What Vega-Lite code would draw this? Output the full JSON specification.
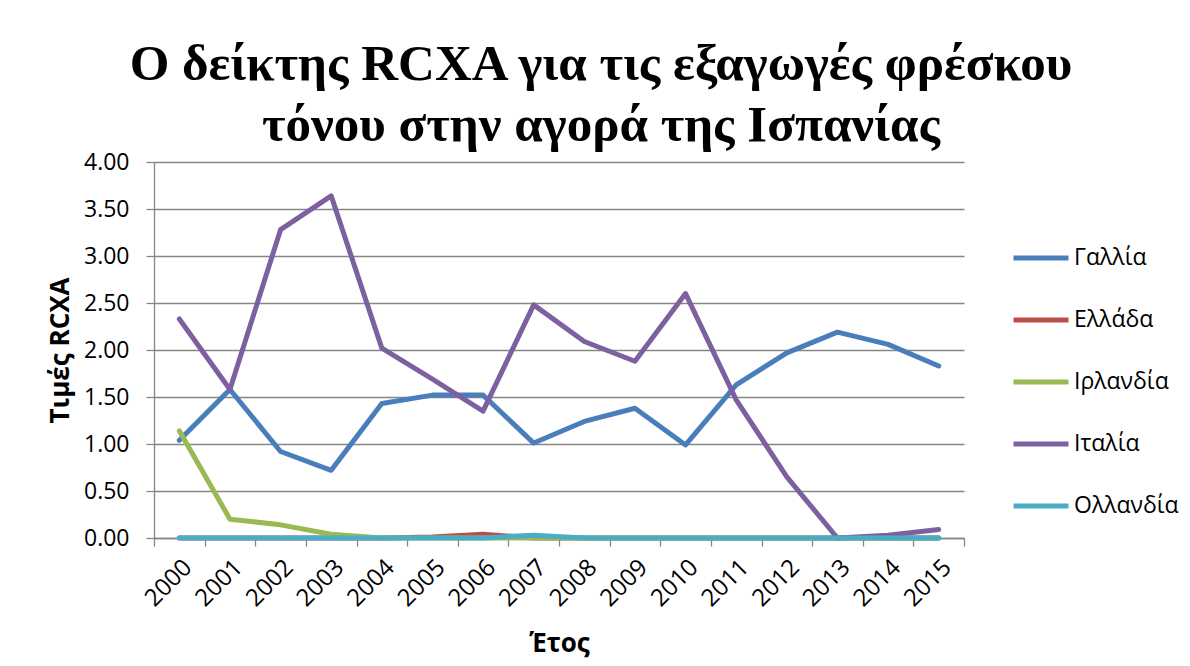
{
  "$schema": "https://vega.github.io/schema/vega-lite/v6.json",
  "autosize": "none",
  "padding": {"left": 154, "top": 162, "right": 226, "bottom": 128},
  "width": 810,
  "height": 376,
  "background": "white",
  "title": {
    "text": ["Ο δείκτης RCXA για τις εξαγωγές φρέσκου", "τόνου στην αγορά της Ισπανίας"],
    "anchor": "middle",
    "frame": "group",
    "dx": 42,
    "font": "Liberation Serif",
    "fontSize": 51,
    "fontWeight": "bold",
    "lineHeight": 61,
    "color": "black",
    "offset": -1
  },
  "data": {
    "values": [
      {"year": "2000", "country": "Γαλλία", "value": 1.04},
      {"year": "2001", "country": "Γαλλία", "value": 1.58},
      {"year": "2002", "country": "Γαλλία", "value": 0.92},
      {"year": "2003", "country": "Γαλλία", "value": 0.72},
      {"year": "2004", "country": "Γαλλία", "value": 1.43},
      {"year": "2005", "country": "Γαλλία", "value": 1.52},
      {"year": "2006", "country": "Γαλλία", "value": 1.52},
      {"year": "2007", "country": "Γαλλία", "value": 1.01},
      {"year": "2008", "country": "Γαλλία", "value": 1.24},
      {"year": "2009", "country": "Γαλλία", "value": 1.38},
      {"year": "2010", "country": "Γαλλία", "value": 0.99},
      {"year": "2011", "country": "Γαλλία", "value": 1.63},
      {"year": "2012", "country": "Γαλλία", "value": 1.97},
      {"year": "2013", "country": "Γαλλία", "value": 2.19},
      {"year": "2014", "country": "Γαλλία", "value": 2.06},
      {"year": "2015", "country": "Γαλλία", "value": 1.83},
      {"year": "2000", "country": "Ελλάδα", "value": 0},
      {"year": "2001", "country": "Ελλάδα", "value": 0},
      {"year": "2002", "country": "Ελλάδα", "value": 0},
      {"year": "2003", "country": "Ελλάδα", "value": 0},
      {"year": "2004", "country": "Ελλάδα", "value": 0},
      {"year": "2005", "country": "Ελλάδα", "value": 0.01},
      {"year": "2006", "country": "Ελλάδα", "value": 0.04},
      {"year": "2007", "country": "Ελλάδα", "value": 0},
      {"year": "2008", "country": "Ελλάδα", "value": 0},
      {"year": "2009", "country": "Ελλάδα", "value": 0},
      {"year": "2010", "country": "Ελλάδα", "value": 0},
      {"year": "2011", "country": "Ελλάδα", "value": 0},
      {"year": "2012", "country": "Ελλάδα", "value": 0},
      {"year": "2013", "country": "Ελλάδα", "value": 0},
      {"year": "2014", "country": "Ελλάδα", "value": 0},
      {"year": "2015", "country": "Ελλάδα", "value": 0},
      {"year": "2000", "country": "Ιρλανδία", "value": 1.14},
      {"year": "2001", "country": "Ιρλανδία", "value": 0.2},
      {"year": "2002", "country": "Ιρλανδία", "value": 0.14},
      {"year": "2003", "country": "Ιρλανδία", "value": 0.04},
      {"year": "2004", "country": "Ιρλανδία", "value": 0.0},
      {"year": "2005", "country": "Ιρλανδία", "value": 0},
      {"year": "2006", "country": "Ιρλανδία", "value": 0},
      {"year": "2007", "country": "Ιρλανδία", "value": 0},
      {"year": "2008", "country": "Ιρλανδία", "value": 0},
      {"year": "2009", "country": "Ιρλανδία", "value": 0},
      {"year": "2010", "country": "Ιρλανδία", "value": 0},
      {"year": "2011", "country": "Ιρλανδία", "value": 0},
      {"year": "2012", "country": "Ιρλανδία", "value": 0},
      {"year": "2013", "country": "Ιρλανδία", "value": 0},
      {"year": "2014", "country": "Ιρλανδία", "value": 0},
      {"year": "2015", "country": "Ιρλανδία", "value": 0},
      {"year": "2000", "country": "Ιταλία", "value": 2.33},
      {"year": "2001", "country": "Ιταλία", "value": 1.58},
      {"year": "2002", "country": "Ιταλία", "value": 3.28},
      {"year": "2003", "country": "Ιταλία", "value": 3.64},
      {"year": "2004", "country": "Ιταλία", "value": 2.02},
      {"year": "2005", "country": "Ιταλία", "value": 1.69},
      {"year": "2006", "country": "Ιταλία", "value": 1.35},
      {"year": "2007", "country": "Ιταλία", "value": 2.48},
      {"year": "2008", "country": "Ιταλία", "value": 2.09},
      {"year": "2009", "country": "Ιταλία", "value": 1.88},
      {"year": "2010", "country": "Ιταλία", "value": 2.6},
      {"year": "2011", "country": "Ιταλία", "value": 1.47},
      {"year": "2012", "country": "Ιταλία", "value": 0.65},
      {"year": "2013", "country": "Ιταλία", "value": 0},
      {"year": "2014", "country": "Ιταλία", "value": 0.03},
      {"year": "2015", "country": "Ιταλία", "value": 0.09},
      {"year": "2000", "country": "Ολλανδία", "value": 0},
      {"year": "2001", "country": "Ολλανδία", "value": 0},
      {"year": "2002", "country": "Ολλανδία", "value": 0},
      {"year": "2003", "country": "Ολλανδία", "value": 0},
      {"year": "2004", "country": "Ολλανδία", "value": 0},
      {"year": "2005", "country": "Ολλανδία", "value": 0},
      {"year": "2006", "country": "Ολλανδία", "value": 0},
      {"year": "2007", "country": "Ολλανδία", "value": 0.03},
      {"year": "2008", "country": "Ολλανδία", "value": 0},
      {"year": "2009", "country": "Ολλανδία", "value": 0},
      {"year": "2010", "country": "Ολλανδία", "value": 0},
      {"year": "2011", "country": "Ολλανδία", "value": 0},
      {"year": "2012", "country": "Ολλανδία", "value": 0},
      {"year": "2013", "country": "Ολλανδία", "value": 0},
      {"year": "2014", "country": "Ολλανδία", "value": 0},
      {"year": "2015", "country": "Ολλανδία", "value": 0}
    ]
  },
  "mark": {"type": "line", "strokeWidth": 5, "strokeCap": "round", "strokeJoin": "round"},
  "encoding": {
    "x": {
      "field": "year",
      "type": "ordinal",
      "scale": {"type": "band", "paddingInner": 0, "paddingOuter": 0},
      "axis": {
        "title": "Έτος",
        "titleFont": "Open Sans",
        "titleFontSize": 26,
        "titleFontWeight": "bold",
        "titleColor": "black",
        "titlePadding": 20,
        "labelAngle": -45,
        "labelFont": "Open Sans",
        "labelFontSize": 24,
        "labelColor": "black",
        "labelPadding": 9,
        "tickBand": "extent",
        "tickSize": 8,
        "tickColor": "#868686",
        "tickWidth": 1.3,
        "domainColor": "#868686",
        "domainWidth": 1.3,
        "grid": false
      }
    },
    "y": {
      "field": "value",
      "type": "quantitative",
      "scale": {"domain": [0, 4], "nice": false, "zero": true},
      "axis": {
        "title": "Τιμές RCXA",
        "titleFont": "Open Sans",
        "titleFontSize": 26,
        "titleFontWeight": "bold",
        "titleColor": "black",
        "titlePadding": 10,
        "values": [0, 0.5, 1, 1.5, 2, 2.5, 3, 3.5, 4],
        "format": ".2f",
        "labelFont": "Open Sans",
        "labelFontSize": 23,
        "labelColor": "black",
        "labelPadding": 17,
        "tickSize": 8,
        "tickColor": "#868686",
        "tickWidth": 1.3,
        "domainColor": "#868686",
        "domainWidth": 1.3,
        "grid": true,
        "gridColor": "#868686",
        "gridWidth": 1.3
      }
    },
    "color": {
      "field": "country",
      "type": "nominal",
      "scale": {
        "domain": ["Γαλλία", "Ελλάδα", "Ιρλανδία", "Ιταλία", "Ολλανδία"],
        "range": ["#4A7EBB", "#BE4B48", "#98B954", "#7D60A0", "#4BACC6"]
      },
      "legend": {
        "title": null,
        "orient": "none",
        "legendX": 857,
        "legendY": 66,
        "symbolType": "stroke",
        "symbolSize": 3025,
        "symbolStrokeWidth": 5,
        "labelFont": "Open Sans",
        "labelFontSize": 23,
        "labelColor": "black",
        "labelOffset": 3,
        "rowPadding": 20
      }
    }
  },
  "config": {
    "view": {"stroke": null}
  }
}
